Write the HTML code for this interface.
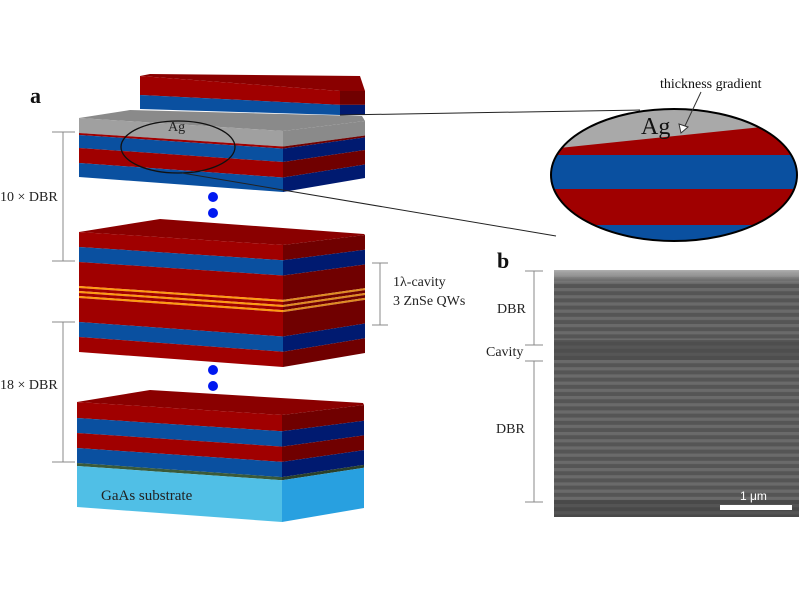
<!DOCTYPE html>
<html><head><meta charset="utf-8"><style>
html,body{margin:0;padding:0;background:#fff;width:799px;height:600px;overflow:hidden}
text{font-family:"Liberation Serif",serif}
</style></head><body>
<svg id="s" width="799" height="600" viewBox="0 0 799 600" xmlns="http://www.w3.org/2000/svg">
<defs>
<clipPath id="ec"><ellipse cx="674" cy="175" rx="123" ry="66"/></clipPath>
<pattern id="sem" width="10" height="7.2" patternUnits="userSpaceOnUse">
<rect width="10" height="7.2" fill="#555"/><rect y="0" width="10" height="3.2" fill="#6a6a6a"/>
</pattern>
<linearGradient id="topg" x1="0" y1="0" x2="0" y2="1">
<stop offset="0" stop-color="#b0b0b0"/><stop offset="1" stop-color="#b0b0b0" stop-opacity="0"/>
</linearGradient>
</defs>
<g id="blocks"></g>
<ellipse cx="178" cy="147" rx="57" ry="26" fill="none" stroke="#111" stroke-width="1.3"/>
<text x="168" y="131" font-size="14" fill="#222">Ag</text>
<line x1="340" y1="115" x2="640" y2="110" stroke="#222" stroke-width="1"/>
<line x1="182" y1="173" x2="556" y2="236" stroke="#222" stroke-width="1"/>
<g clip-path="url(#ec)">
<rect x="540" y="100" width="270" height="150" fill="#0a50a0"/>
<rect x="540" y="100" width="270" height="125" fill="#a00000"/>
<rect x="540" y="155" width="270" height="34" fill="#0a50a0"/>
<polygon points="540,100 810,100 810,122 540,150" fill="#a9a9a9"/>
</g>
<ellipse cx="674" cy="175" rx="123" ry="66" fill="none" stroke="#000" stroke-width="2"/>
<text x="641" y="134" font-size="24" fill="#111">Ag</text>
<text x="660" y="88" font-size="14" fill="#111">thickness gradient</text>
<line x1="701" y1="92" x2="684" y2="128" stroke="#333" stroke-width="1"/>
<polygon points="681,133 679,124 688,127" fill="#fff" stroke="#333" stroke-width="1"/>
<circle cx="213" cy="197" r="5" fill="#0018f0"/><circle cx="213" cy="213" r="5" fill="#0018f0"/>
<circle cx="213" cy="370" r="5" fill="#0018f0"/><circle cx="213" cy="386" r="5" fill="#0018f0"/>
<g stroke="#888" stroke-width="1" fill="none">
<path d="M52,132H75M63,132V261M52,261H75"/>
<path d="M52,322H75M63,322V462M52,462H75"/>
<path d="M372,263H388M380,263V325M372,325H388"/>
<path d="M525,271H543M534,271V345M525,345H543"/>
<path d="M525,361H543M534,361V502M525,502H543"/>
</g>
<text x="30" y="103" font-size="22" font-weight="bold" fill="#111">a</text>
<text x="0" y="201" font-size="14" fill="#222">10 × DBR</text>
<text x="0" y="389" font-size="14" fill="#222">18 × DBR</text>
<text x="393" y="286" font-size="14" fill="#222">1λ-cavity</text>
<text x="393" y="305" font-size="14" fill="#222">3 ZnSe QWs</text>
<text x="101" y="500" font-size="15" fill="#222">GaAs substrate</text>
<text x="497" y="268" font-size="22" font-weight="bold" fill="#111">b</text>
<text x="497" y="313" font-size="14" fill="#222">DBR</text>
<text x="486" y="356" font-size="14" fill="#222">Cavity</text>
<text x="496" y="433" font-size="14" fill="#222">DBR</text>
<rect x="554" y="270" width="245" height="247" fill="url(#sem)"/>
<rect x="554" y="270" width="245" height="14" fill="url(#topg)"/>
<rect x="554" y="340" width="245" height="20" fill="#4a4a4a" opacity="0.6"/>
<rect x="554" y="500" width="245" height="17" fill="#3e3e3e" opacity="0.5"/>
<rect x="720" y="505" width="72" height="5" fill="#fff"/>
<text x="740" y="500" font-size="12" fill="#fff" style="font-family:'Liberation Sans',sans-serif">1 μm</text>
</svg>
<script>
var g=document.getElementById('blocks'),NS='http://www.w3.org/2000/svg';
function P(pts,f){var p=document.createElementNS(NS,'polygon');p.setAttribute('points',pts);p.setAttribute('fill',f);g.appendChild(p);}
var C={r:['#a00000','#700000'],b:['#0a50a0','#001a70'],o:['#ff9a10','#e08a20'],g:['#3a5a3a','#2a402a'],c:['#50bfe6','#28a0e0'],a:['#a0a0a0','#8a8a8a']};
function block(x0,x1,x2,layers,top,topc,d1t,d1b,d2t,d2b){
 var yt=layers[0][0],yb=layers[layers.length-1][1];
 function D1(y){return d1t+(d1b-d1t)*(y-yt)/(yb-yt);}
 function D2(y){return d2t+(d2b-d2t)*(y-yt)/(yb-yt);}
 P(x0+','+yt+' '+top[0]+','+top[1]+' '+top[2]+','+top[3]+' '+x2+','+(yt+d1t+d2t)+' '+x1+','+(yt+d1t),topc);
 for(var i=0;i<layers.length;i++){var a=layers[i][0],b=layers[i][1],c=C[layers[i][2]];
  P(x0+','+a+' '+x1+','+(a+D1(a))+' '+x1+','+(b+D1(b))+' '+x0+','+b,c[0]);
  P(x1+','+(a+D1(a))+' '+x2+','+(a+D1(a)+D2(a))+' '+x2+','+(b+D1(b)+D2(b))+' '+x1+','+(b+D1(b)),c[1]);}
}
block(140,340,365,[[76,95,'r'],[95,109,'b']],[150,74,360,76],'#8a0000',15,6,0,0);
block(79,283,365,[[118,133,'a'],[133,135,'r'],[135,148,'b'],[148,163,'r'],[163,177,'b']],[130,110,362,116],'#8a8a8a',13,15,-10,-14);
block(79,283,365,[[232,247,'r'],[247,262,'b'],[262,286,'r'],[286,288,'o'],[288,291,'r'],[291,293,'o'],[293,296,'r'],[296,298,'o'],[298,322,'r'],[322,337,'b'],[337,352,'r']],[160,219,364,234],'#8a0000',13,15,-10,-14);
block(77,282,364,[[402,418,'r'],[418,433,'b'],[433,448,'r'],[448,463,'b'],[463,466,'g'],[466,507,'c']],[150,390,363,403],'#8a0000',13,15,-10,-14);
</script>
</body></html>
